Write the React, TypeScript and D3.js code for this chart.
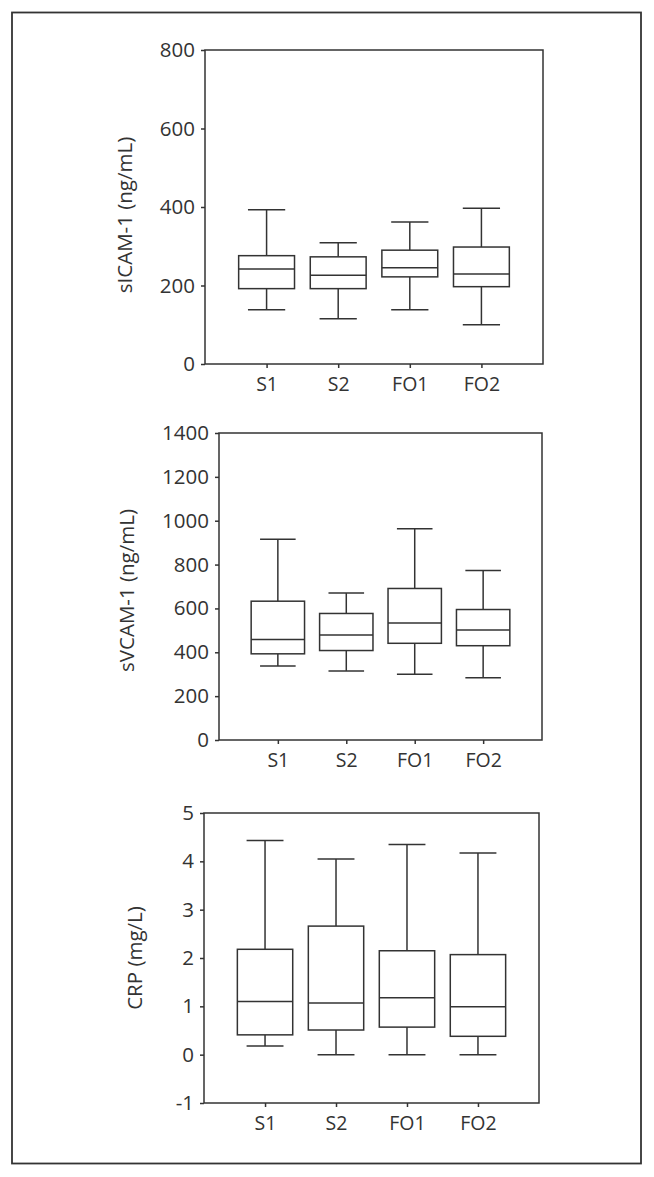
import React, { useEffect, useRef } from "react";
import * as d3 from "d3";

// groups on the x axis
const groups = ["S1", "S2", "FO1", "FO2"];

// sICAM-1 (ng/mL) : [min, q1, median, q3, max]
const icamStats = [
  [138, 192, 242, 276, 393],
  [115, 192, 226, 273, 309],
  [138, 222, 245, 290, 362],
  [100, 197, 229, 298, 397],
];

// sVCAM-1 (ng/mL)
const vcamStats = [
  [338, 393, 458, 633, 916],
  [315, 408, 479, 577, 670],
  [300, 441, 533, 691, 963],
  [284, 430, 502, 595, 773],
];

// CRP (mg/L)
const crpStats = [
  [0.18, 0.41, 1.1, 2.18, 4.43],
  [0, 0.51, 1.07, 2.66, 4.05],
  [0, 0.57, 1.18, 2.15, 4.35],
  [0, 0.38, 0.99, 2.07, 4.17],
];

const icamTicks = [0, 200, 400, 600, 800];
const vcamTicks = [0, 200, 400, 600, 800, 1000, 1200, 1400];
const crpTicks = [-1, 0, 1, 2, 3, 4, 5];

const ink = "#333";
const font = "'Open Sans', 'Noto Sans', sans-serif";

const panels = [
  { title: "sICAM-1 (ng/mL)", stats: icamStats, ticks: icamTicks, left: 205, right: 543, top: 50, bottom: 364, titleX: 125, titleDy: 8 },
  { title: "sVCAM-1 (ng/mL)", stats: vcamStats, ticks: vcamTicks, left: 219, right: 542, top: 433, bottom: 740, titleX: 127, titleDy: 4 },
  { title: "CRP (mg/L)", stats: crpStats, ticks: crpTicks, left: 204, right: 539, top: 813, bottom: 1103, titleX: 135, titleDy: 0 },
];

const App = () => {
  const ref = useRef<SVGSVGElement | null>(null);

  useEffect(() => {
    const svg = d3.select(ref.current);
    svg.selectAll("*").remove();

    // outer frame
    svg.append("rect")
      .attr("x", 12).attr("y", 12.5)
      .attr("width", 629).attr("height", 1151)
      .attr("fill", "none").attr("stroke", ink).attr("stroke-width", 1.8);

    panels.forEach(p => {
      const g = svg.append("g");
      const y = d3.scaleLinear()
        .domain([p.ticks[0], p.ticks[p.ticks.length - 1]])
        .range([p.bottom, p.top]);
      const x = d3.scalePoint()
        .domain(groups)
        .range([p.left, p.right])
        .padding(0.86);
      const step = x.step();
      const boxW = step * 0.78;
      const capW = step * 0.52;

      // plot frame
      g.append("rect")
        .attr("x", p.left).attr("y", p.top)
        .attr("width", p.right - p.left).attr("height", p.bottom - p.top)
        .attr("fill", "none").attr("stroke", ink).attr("stroke-width", 1.5);

      // y axis
      const yAxis = g.append("g")
        .attr("transform", `translate(${p.left},0)`)
        .call(d3.axisLeft(y).tickValues(p.ticks).tickSize(4).tickPadding(6).tickFormat(d => String(d)));
      yAxis.select(".domain").remove();
      yAxis.selectAll("line").attr("stroke", ink).attr("stroke-width", 1.5);
      yAxis.selectAll("text")
        .attr("fill", ink).style("font-family", font).style("font-size", "20.5px");

      // x axis
      const xAxis = g.append("g")
        .attr("transform", `translate(0,${p.bottom})`)
        .call(d3.axisBottom(x).tickSize(4).tickPadding(9));
      xAxis.select(".domain").remove();
      xAxis.selectAll("line").attr("stroke", ink).attr("stroke-width", 1.5);
      xAxis.selectAll("text")
        .attr("fill", ink).style("font-family", font).style("font-size", "19.5px");

      // axis title
      g.append("text")
        .attr("transform", `translate(${p.titleX},${(p.top + p.bottom) / 2 + p.titleDy}) rotate(-90)`)
        .attr("text-anchor", "middle")
        .attr("dy", "0.35em")
        .attr("fill", ink)
        .style("font-family", font).style("font-size", "20.5px")
        .text(p.title);

      // boxes
      const box = g.append("g")
        .attr("fill", "none").attr("stroke", ink).attr("stroke-width", 1.5)
        .selectAll("g")
        .data(p.stats.map((s, i) => ({ name: groups[i], s })))
        .join("g");

      box.append("line")
        .attr("x1", d => x(d.name)!).attr("x2", d => x(d.name)!)
        .attr("y1", d => y(d.s[0])).attr("y2", d => y(d.s[1]));
      box.append("line")
        .attr("x1", d => x(d.name)!).attr("x2", d => x(d.name)!)
        .attr("y1", d => y(d.s[3])).attr("y2", d => y(d.s[4]));
      box.append("line")
        .attr("x1", d => x(d.name)! - capW / 2).attr("x2", d => x(d.name)! + capW / 2)
        .attr("y1", d => y(d.s[0])).attr("y2", d => y(d.s[0]));
      box.append("line")
        .attr("x1", d => x(d.name)! - capW / 2).attr("x2", d => x(d.name)! + capW / 2)
        .attr("y1", d => y(d.s[4])).attr("y2", d => y(d.s[4]));
      box.append("rect")
        .attr("x", d => x(d.name)! - boxW / 2).attr("width", boxW)
        .attr("y", d => y(d.s[3])).attr("height", d => y(d.s[1]) - y(d.s[3]))
        .attr("fill", "white");
      box.append("line")
        .attr("x1", d => x(d.name)! - boxW / 2).attr("x2", d => x(d.name)! + boxW / 2)
        .attr("y1", d => y(d.s[2])).attr("y2", d => y(d.s[2]));
    });
  }, []);

  return (
    <svg ref={ref} width={654} height={1177}
      style={{ position: "absolute", left: 0, top: 0, background: "white" }} />
  );
};

export default App;
